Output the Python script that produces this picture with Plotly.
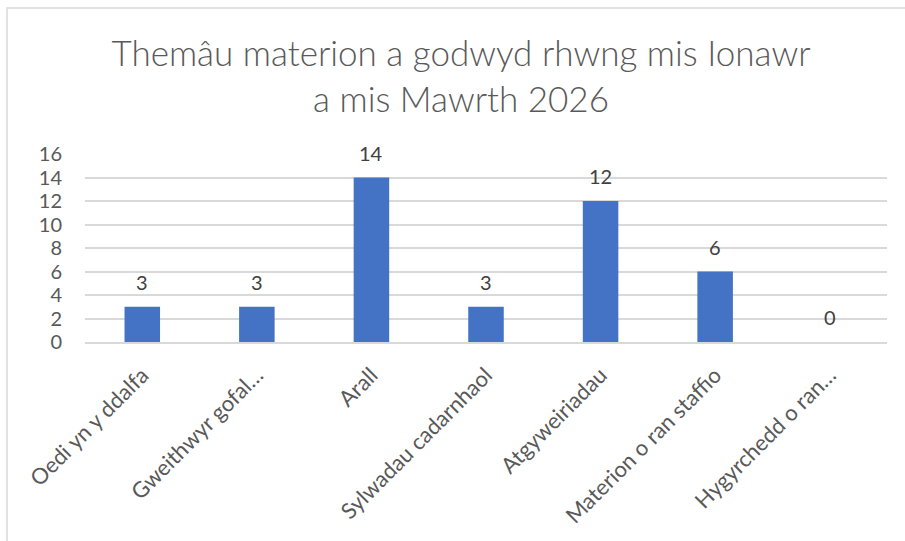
import plotly.graph_objects as go

# data
categories = [
    "Oedi yn y ddalfa",
    "Gweithwyr gofal…",
    "Arall",
    "Sylwadau cadarnhaol",
    "Atgyweiriadau",
    "Materion o ran staffio",
    "Hygyrchedd o ran…",
]
counts = [3, 3, 14, 3, 12, 6, 0]
y_ticks = [0, 2, 4, 6, 8, 10, 12, 14, 16]

title_text = "Themâu materion a godwyd rhwng mis Ionawr<br>a mis Mawrth 2026"

W, H = 905, 541
ML, MR, MT, MB = 85, 18, 154, 199
plot_w = W - ML - MR
plot_h = H - MT - MB

FONT = "Lato, 'Open Sans', sans-serif"

fig = go.Figure()
fig.add_trace(go.Bar(
    x=categories,
    y=counts,
    marker=dict(color="#4472c4", line=dict(width=0)),
    hoverinfo="x+y",
))

# value labels above bars
for c, v in zip(categories, counts):
    fig.add_annotation(
        x=c, y=v, text=str(v), showarrow=False,
        yshift=25, font=dict(family=FONT, size=20, color="#404040"),
    )

# chart frame (Excel-like border)
def px_x(p):
    return (p - ML) / plot_w

def px_y(p):
    return 1 - (p - MT) / plot_h

fig.add_shape(
    type="rect", xref="paper", yref="paper",
    x0=px_x(7), x1=px_x(910), y0=px_y(8), y1=px_y(560),
    line=dict(color="#d9d9d9", width=1.5), fillcolor="rgba(0,0,0,0)",
    layer="below",
)

fig.update_layout(
    width=W, height=H,
    margin=dict(l=ML, r=MR, t=MT, b=MB),
    paper_bgcolor="white", plot_bgcolor="white",
    bargap=0.69,
    showlegend=False,
    title=dict(
        text=title_text, x=461 / W, xanchor="center", xref="container",
        y=1 - 66 / H, yanchor="middle",
        font=dict(family=FONT, size=35, weight=300, color="#595959"),
    ),
    font=dict(family=FONT, size=20, color="#595959"),
)
fig.update_xaxes(
    tickangle=-45, showgrid=False, showline=True,
    linecolor="#d9d9d9", linewidth=1.5, ticks="",
    ticklabelstandoff=10,
    tickfont=dict(family=FONT, size=22, color="#595959"),
)
fig.update_yaxes(
    range=[0, 16], tickvals=y_ticks, showgrid=True,
    gridcolor="#d9d9d9", gridwidth=1.5, zeroline=False,
    showline=False, ticks="", ticklabelstandoff=22,
    tickfont=dict(family=FONT, size=20, color="#595959"),
)

# the page body has a default 8px margin; drop it so the chart sits at 0,0
fig.write_html(
    "out.html",
    config={"displayModeBar": False},
    post_script="document.body.style.margin='0';",
)
